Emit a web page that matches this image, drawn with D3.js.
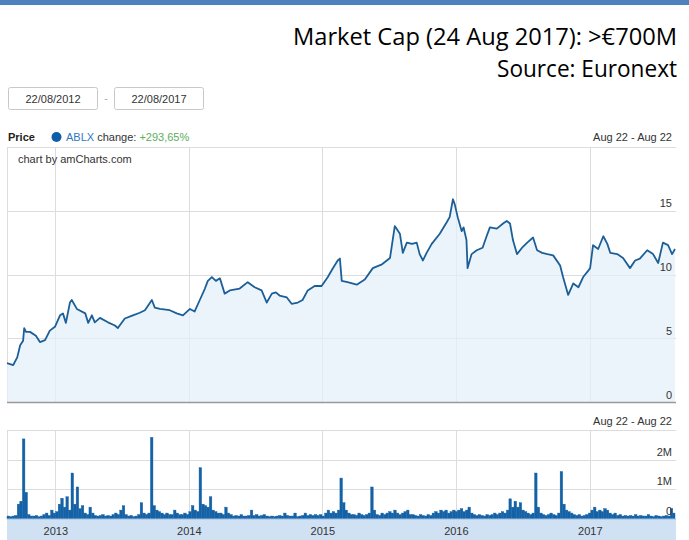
<!DOCTYPE html>
<html><head><meta charset="utf-8">
<script src="https://cdn.jsdelivr.net/npm/d3@7"></script>
<style>
html,body{margin:0;padding:0;background:#fff;}
svg{display:block;}
</style></head>
<body>
<svg id="chart" width="689" height="540"></svg>
<script>
// ---- DATA ----
const titleLines = ["Market Cap (24 Aug 2017): >€700M", "Source: Euronext"];
const rangeLabels = ["22/08/2012", "22/08/2017"];
const periodLabel = "Aug 22 - Aug 22";
const seriesName = "ABLX";
const changeLabel = "+293,65%";
const yearTicks = ["2013", "2014", "2015", "2016", "2017"];
const priceTicks = [0, 5, 10, 15];
const volumeTicks = [0, 1e6, 2e6];
const volumeTickLabels = ["0", "1M", "2M"];

const priceDates = ["2012-08-22","2012-09-08","2012-09-19","2012-09-27","2012-10-05","2012-10-08","2012-10-13","2012-10-24","2012-11-09","2012-11-20","2012-12-04","2012-12-17","2012-12-31","2013-01-14","2013-01-22","2013-01-30","2013-02-10","2013-02-15","2013-03-01","2013-03-24","2013-04-01","2013-04-11","2013-04-19","2013-05-03","2013-05-25","2013-06-13","2013-06-21","2013-07-10","2013-08-01","2013-08-20","2013-09-03","2013-09-22","2013-09-30","2013-10-14","2013-11-10","2013-11-29","2013-12-16","2014-01-04","2014-01-17","2014-01-31","2014-02-14","2014-02-22","2014-03-05","2014-03-16","2014-03-27","2014-04-09","2014-04-23","2014-05-20","2014-06-11","2014-06-30","2014-07-19","2014-08-02","2014-08-16","2014-08-27","2014-09-06","2014-09-26","2014-10-09","2014-10-26","2014-11-08","2014-11-22","2014-12-11","2014-12-30","2015-01-16","2015-01-29","2015-02-12","2015-02-18","2015-02-23","2015-03-11","2015-04-05","2015-04-27","2015-05-19","2015-06-13","2015-07-05","2015-07-18","2015-08-01","2015-08-09","2015-08-20","2015-09-03","2015-09-16","2015-09-24","2015-10-03","2015-10-13","2015-10-27","2015-11-18","2015-12-07","2015-12-15","2015-12-24","2015-12-29","2016-01-06","2016-01-17","2016-01-22","2016-01-30","2016-02-02","2016-02-13","2016-02-27","2016-03-14","2016-03-25","2016-04-03","2016-04-22","2016-05-09","2016-05-19","2016-05-28","2016-06-05","2016-06-16","2016-06-30","2016-07-14","2016-07-30","2016-08-10","2016-08-24","2016-09-07","2016-09-23","2016-10-12","2016-10-20","2016-11-03","2016-11-17","2016-12-01","2016-12-14","2016-12-28","2017-01-02","2017-01-10","2017-01-24","2017-02-07","2017-02-18","2017-02-26","2017-03-17","2017-04-02","2017-04-21","2017-05-05","2017-05-18","2017-06-07","2017-06-23","2017-07-07","2017-07-20","2017-08-03","2017-08-14","2017-08-22"];
const priceValues = [3.05,2.9,3.5,4.45,4.8,5.8,5.5,5.5,5.2,4.7,4.85,5.6,5.9,6.8,6.95,6.2,7.8,8.0,7.3,6.95,6.2,6.8,6.25,6.6,6.25,6.0,5.8,6.55,6.8,7.0,7.2,8.0,7.4,7.3,7.2,6.95,6.8,7.3,7.1,8.0,8.9,9.5,9.8,9.5,9.7,8.5,8.75,8.9,9.4,9.0,8.75,7.8,8.5,8.6,8.35,8.2,7.7,7.8,8.0,8.75,9.1,9.1,9.8,10.45,11.1,11.25,9.5,9.4,9.2,9.6,10.5,10.8,11.3,13.8,13.2,11.7,12.5,12.4,12.5,11.6,11.1,11.7,12.4,13.2,14.1,14.5,15.9,15.5,14.5,13.4,13.7,12.7,10.5,11.6,11.9,12.1,13.0,13.7,13.6,14.0,14.2,14.0,12.7,11.6,12.1,12.5,12.9,11.9,11.7,11.6,11.5,10.7,9.8,8.4,9.3,9.0,9.8,10.3,10.5,12.3,12.0,13.0,12.4,11.7,11.6,11.3,10.5,11.1,11.25,11.9,11.6,10.9,12.5,12.3,11.6,12.0];

const volumeStart = "2012-08-22";
// weekly volumes, millions of shares
const volumeValues = [
0.1,0.08,0.1,0.12,0.5,0.6,2.7,0.9,0.15,0.1,
0.1,0.12,0.08,0.1,0.15,0.2,0.12,0.3,0.2,0.25,
0.5,0.7,0.4,0.75,0.3,1.55,0.5,1.08,0.35,0.45,
0.2,0.15,0.4,0.2,0.12,0.1,0.12,0.15,0.1,0.12,
0.1,0.15,0.2,0.15,0.3,0.45,0.15,0.1,0.12,0.08,
0.1,0.15,0.55,0.2,0.15,0.2,2.75,0.45,0.3,0.25,
0.2,0.15,0.2,0.15,0.15,0.3,0.2,0.15,0.15,0.2,
0.15,0.25,0.45,0.3,0.25,1.73,0.5,0.45,0.4,0.75,
0.3,0.25,0.2,0.2,0.15,0.4,0.2,0.15,0.1,0.12,
0.1,0.15,0.1,0.1,0.12,0.3,0.12,0.15,0.1,0.12,
0.15,0.1,0.08,0.1,0.08,0.1,0.12,0.1,0.2,0.12,
0.1,0.1,0.2,0.08,0.1,0.12,0.2,0.12,0.15,0.12,
0.15,0.12,0.15,0.1,0.2,0.3,0.2,0.25,0.2,0.3,
1.38,0.55,0.3,0.2,0.15,0.15,0.12,0.2,0.15,0.12,
0.15,0.2,1.08,0.3,0.15,0.12,0.2,0.15,0.2,0.25,
0.2,0.3,0.2,0.15,0.2,0.25,0.3,0.15,0.15,0.12,
0.1,0.15,0.12,0.1,0.15,0.12,0.2,0.25,0.2,0.3,
0.25,0.3,0.2,0.25,0.3,0.25,0.3,0.35,0.25,0.3,
0.4,0.2,0.15,0.12,0.15,0.12,0.1,0.15,0.12,0.15,
0.2,0.15,0.2,0.25,0.2,0.3,0.68,0.4,0.6,0.4,
0.55,0.3,0.25,0.2,0.15,0.2,1.55,0.4,0.2,0.15,
0.12,0.15,0.2,0.15,0.12,0.2,1.6,0.5,0.3,0.25,
0.2,0.15,0.12,0.15,0.1,0.12,0.15,0.2,0.3,0.4,
0.25,0.3,0.25,0.35,0.3,0.2,0.15,0.2,0.12,0.15,
0.1,0.12,0.1,0.12,0.1,0.15,0.1,0.12,0.1,0.1,
0.15,0.1,0.08,0.12,0.1,0.08,0.1,0.12,0.1,0.35,
0.2];

// ---- CHART ----
const svg = d3.select("#chart");
const parse = d3.timeParse("%Y-%m-%d");
const font = "'Liberation Sans', Arial, sans-serif";
const textCol = "#333";
const gridCol = "#dcdcdc";

// top banner strip
svg.append("rect").attr("x",0).attr("y",0).attr("width",689).attr("height",5).attr("fill","#4f81bd");

// titles
svg.append("text").attr("x",677).attr("y",45).attr("text-anchor","end")
  .attr("font-family","'Open Sans', sans-serif").attr("font-size",23.5).attr("fill","#000")
  .attr("textLength",384).attr("lengthAdjust","spacingAndGlyphs").text(titleLines[0]);
svg.append("text").attr("x",677).attr("y",77).attr("text-anchor","end")
  .attr("font-family","'Open Sans', sans-serif").attr("font-size",23.5).attr("fill","#000")
  .attr("textLength",180).attr("lengthAdjust","spacingAndGlyphs").text(titleLines[1]);

// date range inputs
const boxX = [8.5, 114.5];
rangeLabels.forEach((l,i)=>{
  svg.append("rect").attr("x",boxX[i]).attr("y",87.5).attr("width",89).attr("height",22)
    .attr("rx",2).attr("fill","#fff").attr("stroke","#c8c8c8");
  svg.append("text").attr("x",boxX[i]+44.5).attr("y",102.5).attr("text-anchor","middle")
    .attr("font-family",font).attr("font-size",11).attr("fill",textCol).text(l);
});
svg.append("text").attr("x",106).attr("y",102).attr("text-anchor","middle")
  .attr("font-family",font).attr("font-size",11).attr("fill","#aaa").text("-");

// scales
const x0 = parse("2012-08-22"), x1 = parse("2017-08-22");
const x = d3.scaleTime().domain([x0,x1]).range([7,675]);
const yP = d3.scaleLinear().domain([0,20]).range([402,147]);
const yV = d3.scaleLinear().domain([0,3e6]).range([519,430]);

// legend row
const leg = svg.append("text").attr("x",8).attr("y",141).attr("font-family",font).attr("font-size",11);
leg.append("tspan").attr("font-weight","bold").attr("fill","#222").text("Price");
svg.append("circle").attr("cx",56.5).attr("cy",137).attr("r",5).attr("fill","#0f5fa8");
const leg2 = svg.append("text").attr("x",66).attr("y",141).attr("font-family",font).attr("font-size",11);
leg2.append("tspan").attr("fill","#2f78c0").text(seriesName);
leg2.append("tspan").attr("fill",textCol).text(" change: ");
leg2.append("tspan").attr("fill","#5cad5c").text(changeLabel);
svg.append("text").attr("x",672).attr("y",141).attr("text-anchor","end")
  .attr("font-family",font).attr("font-size",11).attr("fill",textCol).text(periodLabel);

// price panel
const pg = svg.append("g");
const yearDates = yearTicks.map(y=>parse(y+"-01-01"));
pg.append("line").attr("x1",7).attr("x2",676).attr("y1",147.5).attr("y2",147.5).attr("stroke",gridCol);
pg.append("line").attr("x1",7.5).attr("x2",7.5).attr("y1",147).attr("y2",402).attr("stroke",gridCol);
pg.selectAll(".hg").data(priceTicks.filter(d=>d>0)).join("line")
  .attr("x1",7).attr("x2",676).attr("y1",d=>Math.round(yP(d))+0.5).attr("y2",d=>Math.round(yP(d))+0.5)
  .attr("stroke",gridCol);
pg.selectAll(".vg").data(yearDates).join("line")
  .attr("x1",d=>Math.round(x(d))+0.5).attr("x2",d=>Math.round(x(d))+0.5).attr("y1",147).attr("y2",402)
  .attr("stroke",gridCol);

const pdata = priceDates.map((d,i)=>({date:parse(d), v:priceValues[i]}));
pg.append("path").datum(pdata)
  .attr("d", d3.area().x(d=>x(d.date)).y0(yP(0)).y1(d=>yP(d.v)))
  .attr("fill","#e6f0f9").attr("fill-opacity",0.75);
pg.append("path").datum(pdata)
  .attr("d", d3.line().x(d=>x(d.date)).y(d=>yP(d.v)))
  .attr("fill","none").attr("stroke","#1c5f98").attr("stroke-width",1.8).attr("stroke-linejoin","round");

pg.append("line").attr("x1",7).attr("x2",676).attr("y1",402.5).attr("y2",402.5).attr("stroke","#999").attr("stroke-width",1.5);

pg.selectAll(".pl").data(priceTicks).join("text")
  .attr("x",672).attr("y",d=>yP(d)-3.5).attr("text-anchor","end")
  .attr("font-family",font).attr("font-size",11).attr("fill",textCol).text(d=>d);

pg.append("text").attr("x",18).attr("y",163).attr("font-family",font).attr("font-size",11)
  .attr("fill",textCol).text("chart by amCharts.com");

// volume panel
const vg = svg.append("g");
vg.append("text").attr("x",672).attr("y",425).attr("text-anchor","end")
  .attr("font-family",font).attr("font-size",11).attr("fill",textCol).text(periodLabel);
vg.append("line").attr("x1",7).attr("x2",676).attr("y1",430.5).attr("y2",430.5).attr("stroke",gridCol);
vg.append("line").attr("x1",7.5).attr("x2",7.5).attr("y1",430).attr("y2",519).attr("stroke",gridCol);
vg.selectAll(".hg").data(volumeTicks.filter(d=>d>0)).join("line")
  .attr("x1",7).attr("x2",676).attr("y1",d=>Math.round(yV(d))+0.5).attr("y2",d=>Math.round(yV(d))+0.5)
  .attr("stroke",gridCol);
vg.selectAll(".vg").data(yearDates).join("line")
  .attr("x1",d=>Math.round(x(d))+0.5).attr("x2",d=>Math.round(x(d))+0.5).attr("y1",430).attr("y2",519)
  .attr("stroke",gridCol);

const vStart = parse(volumeStart);
const vdata = volumeValues.map((v,i)=>({date:d3.timeWeek.offset(vStart,i), v:v*1e6}));
vg.selectAll(".vb").data(vdata).join("rect")
  .attr("x",d=>x(d.date))
  .attr("width",d=>Math.max(0.5, Math.min(x(d3.timeWeek.offset(d.date,1)),675)-x(d.date)))
  .attr("y",d=>yV(d.v)).attr("height",d=>yV(0)-yV(d.v))
  .attr("fill","#1461a6").attr("stroke","#1461a6").attr("stroke-width",0.4);

vg.selectAll(".vl").data(volumeTicks).join("text")
  .attr("x",672).attr("y",(d)=>yV(d)-4).attr("text-anchor","end")
  .attr("font-family",font).attr("font-size",11).attr("fill",textCol)
  .text((d,i)=>volumeTickLabels[i]);

// bottom category axis band
svg.append("rect").attr("x",7).attr("y",519).attr("width",669).attr("height",21).attr("fill","#cfe1f3");
svg.append("line").attr("x1",7).attr("x2",676).attr("y1",519).attr("y2",519).attr("stroke","#9fbfdf");
const xAxis = d3.axisBottom(x).tickValues(yearDates).tickFormat(d3.timeFormat("%Y")).tickSize(0).tickPadding(0);
const ax = svg.append("g").attr("transform","translate(0,527)").call(xAxis);
ax.select(".domain").remove();
ax.selectAll("text").attr("font-family",font).attr("font-size",11).attr("fill",textCol);
</script>
</body></html>
